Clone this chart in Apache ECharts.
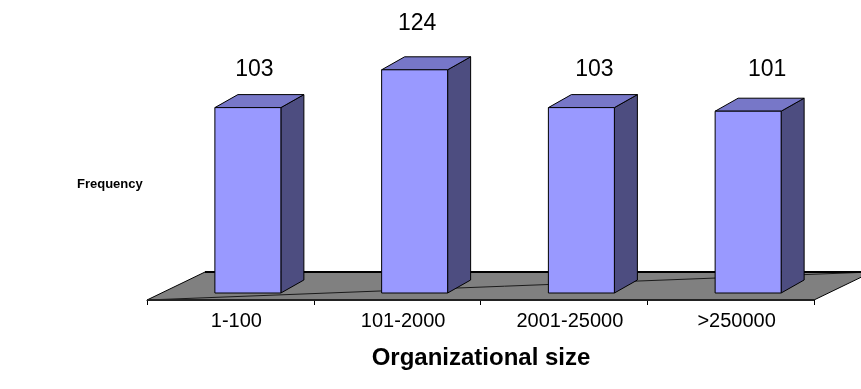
<!DOCTYPE html>
<html>
<head>
<meta charset="utf-8">
<script src="https://cdn.jsdelivr.net/npm/echarts@6/dist/echarts.min.js"></script>
<style>
  html, body { margin: 0; padding: 0; background: #fff; }
  #chart { width: 861px; height: 389px; }
</style>
</head>
<body>
<div id="chart"></div>
<script>
// Survey responses by organizational size
const categories = ['1-100', '101-2000', '2001-25000', '>250000'];
const frequency = [103, 124, 103, 101];
const axisMin = 0;
const axisMax = 140;

// Pseudo-3D projection settings
const FLOOR_DX = 58, FLOOR_DY = 28;      // depth of the floor plane
const COL_DX = 23, COL_DY = 13;          // depth of each column
const COL_SHIFT_X = 17.5, COL_SHIFT_Y = 7; // columns stand part-way back on the floor
const COL_W = 66;
const FONT = '"Liberation Sans", Arial, Helvetica, sans-serif';
// value-label placement relative to the top of each column
const LABEL_DX = 10, LABEL_DY = -40;
const labelNudge = [[-3.5, 2.4], [-7.5, -5.8], [3, 2.4], [9, -1.2]];

function renderFloor(params, api) {
  const cs = params.coordSys;
  const x0 = cs.x, x1 = cs.x + cs.width, y0 = cs.y + cs.height;
  const pts = [
    [x0, y0], [x1, y0],
    [x1 + FLOOR_DX, y0 - FLOOR_DY], [x0 + FLOOR_DX, y0 - FLOOR_DY]
  ];
  return {
    type: 'group',
    children: [
      { type: 'polygon', shape: { points: pts },
        style: { fill: '#808080', stroke: '#000', lineWidth: 1 } },
      { type: 'line', shape: { x1: x0, y1: y0, x2: x1 + FLOOR_DX, y2: y0 - FLOOR_DY },
        style: { stroke: '#1a1a1a', lineWidth: 1 } },
      { type: 'line', shape: { x1: x0 + FLOOR_DX, y1: y0 - FLOOR_DY, x2: x1 + FLOOR_DX, y2: y0 - FLOOR_DY },
        style: { stroke: '#000', lineWidth: 2 } },
      { type: 'line', shape: { x1: x0, y1: y0, x2: x1, y2: y0 },
        style: { stroke: '#222', lineWidth: 2 } }
    ]
  };
}

function renderColumn(params, api) {
  const idx = params.dataIndex;
  const topPt = api.coord([api.value(0), api.value(1)]);
  const basePt = api.coord([api.value(0), 0]);
  const xl = topPt[0] - COL_W / 2 + COL_SHIFT_X;
  const xr = xl + COL_W;
  const yt = topPt[1] - COL_SHIFT_Y;
  const yb = basePt[1] - COL_SHIFT_Y;
  const edge = { stroke: '#000', lineWidth: 1, lineJoin: 'round' };
  const nudge = labelNudge[idx] || [0, 0];
  return {
    type: 'group',
    children: [
      { type: 'polygon',
        shape: { points: [[xr, yt], [xr + COL_DX, yt - COL_DY], [xr + COL_DX, yb - COL_DY], [xr, yb]] },
        style: Object.assign({ fill: '#4d4d80' }, edge) },
      { type: 'polygon',
        shape: { points: [[xl, yt], [xr, yt], [xr + COL_DX, yt - COL_DY], [xl + COL_DX, yt - COL_DY]] },
        style: Object.assign({ fill: '#7777c8' }, edge) },
      { type: 'rect',
        shape: { x: xl, y: yt, width: COL_W, height: yb - yt },
        style: Object.assign({ fill: '#9999ff' }, edge) },
      { type: 'text',
        x: xl + COL_W / 2 + LABEL_DX + nudge[0],
        y: yt + LABEL_DY + nudge[1],
        style: { text: String(api.value(1)), fill: '#000', font: '23px ' + FONT,
                 align: 'center', verticalAlign: 'middle' } }
    ]
  };
}

const chart = echarts.init(document.getElementById('chart'), null, { renderer: 'canvas' });
chart.setOption({
  animation: false,
  backgroundColor: '#fff',
  grid: { left: 147, right: 47, top: 48, bottom: 89 },
  xAxis: {
    type: 'category',
    data: categories,
    boundaryGap: true,
    axisLine: { show: true, lineStyle: { color: '#000', width: 1 } },
    axisTick: { show: true, length: 5, lineStyle: { color: '#000', width: 1 } },
    axisLabel: { color: '#000', fontSize: 20, fontFamily: FONT, margin: 11,
                 padding: [0, 0, 0, 12] },
    splitLine: { show: false }
  },
  yAxis: {
    type: 'value',
    min: axisMin,
    max: axisMax,
    show: false,
    splitLine: { show: false }
  },
  graphic: [
    { type: 'text', left: 77, top: 178,
      style: { text: 'Frequency', fill: '#000', font: 'bold 13px ' + FONT } },
    { type: 'text', x: 481, y: 358,
      style: { text: 'Organizational size', fill: '#000', font: 'bold 24px ' + FONT,
               align: 'center', verticalAlign: 'middle' } }
  ],
  series: [
    { type: 'custom', name: 'floor', z: 1, silent: true, clip: false,
      renderItem: renderFloor, data: [[0, 0]] },
    { type: 'custom', name: 'Frequency', z: 3, clip: false,
      renderItem: renderColumn,
      encode: { x: 0, y: 1 },
      data: frequency.map((v, i) => [i, v]) }
  ]
});
</script>
</body>
</html>
